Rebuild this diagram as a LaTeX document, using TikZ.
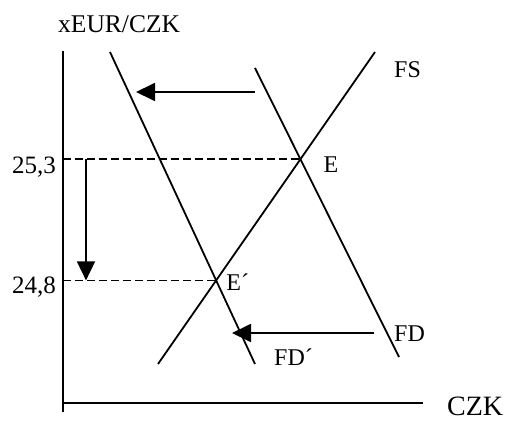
\documentclass[tikz,border=0pt]{standalone}
\usepackage{fontspec}
\setmainfont{Liberation Serif}
\usetikzlibrary{arrows.meta,intersections}

\begin{document}
\begin{tikzpicture}[x=1pt,y=-1pt,
    vonal/.style={line width=1.8pt},
    szagg/.style={line width=1.6pt, dash pattern=on 8pt off 4pt},
    nyil/.style={line width=1.8pt, -{Triangle[length=19pt,width=18pt]}},
    felirat/.style={inner sep=0pt, anchor=base west, font=\fontsize{24}{28}\selectfont}]
    \useasboundingbox (0,0) rectangle (512,422);

    % Tengelyek
    \coordinate (ytop) at (63,51);
    \coordinate (ybot) at (63,412);
    \coordinate (xbal) at (63,403);
    \coordinate (xjobb) at (423,403);
    \draw[vonal] (ytop) -- (ybot);   % y tengely
    \draw[vonal] (xbal) -- (xjobb);  % x tengely

    % Kereslet es kinalat
    \coordinate (fdv1) at (110,52);  \coordinate (fdv2) at (255,364); % FD' vege
    \coordinate (fd1) at (255,68);   \coordinate (fd2) at (399,357);  % FD vege
    \coordinate (fs1) at (158,364);  \coordinate (fs2) at (375,52);   % FS vege
    \draw[vonal, name path=fdv] (fdv1) -- (fdv2);
    \draw[vonal, name path=fd] (fd1) -- (fd2);
    \draw[vonal, name path=fs] (fs1) -- (fs2);

    % Egyensulyi pontok
    \path[name intersections={of=fs and fd, by=E}];
    \path[name intersections={of=fs and fdv, by=Ev}];
    \draw[szagg] (E -| ytop) -- (E);
    \draw[szagg] (Ev -| ytop) -- (Ev);

    % Eltolodas nyilai
    \coordinate (nyilx) at (86,0);
    \draw[nyil] (E -| nyilx) -- (Ev -| nyilx);   % lefele
    \coordinate (fel1) at (255,92);  \coordinate (fel2) at (136,92);
    \draw[nyil] (fel1) -- (fel2);                 % felso balra
    \coordinate (al1) at (374,333);  \coordinate (al2) at (232,333);
    \draw[nyil] (al1) -- (al2);                   % also balra

    % Feliratok
    \node[felirat, font=\fontsize{25.5}{28}\selectfont] (ycim) at (58,33) {xEUR/CZK};
    \node[felirat, font=\fontsize{28}{32}\selectfont] (xcim) at (447,416) {CZK};
    \node[felirat, anchor=base east, font=\fontsize{25}{28}\selectfont] (r253) at (56,174) {25,3};
    \node[felirat, anchor=base east, font=\fontsize{25}{28}\selectfont] (r248) at (56,294) {24,8};
    \node[felirat] (lE) at ([shift={(23,13)}]E) {E};
    \node[felirat] (lEv) at ([shift={(10,10)}]Ev) {E´};
    \node[felirat] (lfs) at (394,78) {FS};
    \node[felirat] (lfd) at (394,342) {FD};
    \node[felirat] (lfdv) at (274,366) {FD´};
\end{tikzpicture}
\end{document}
